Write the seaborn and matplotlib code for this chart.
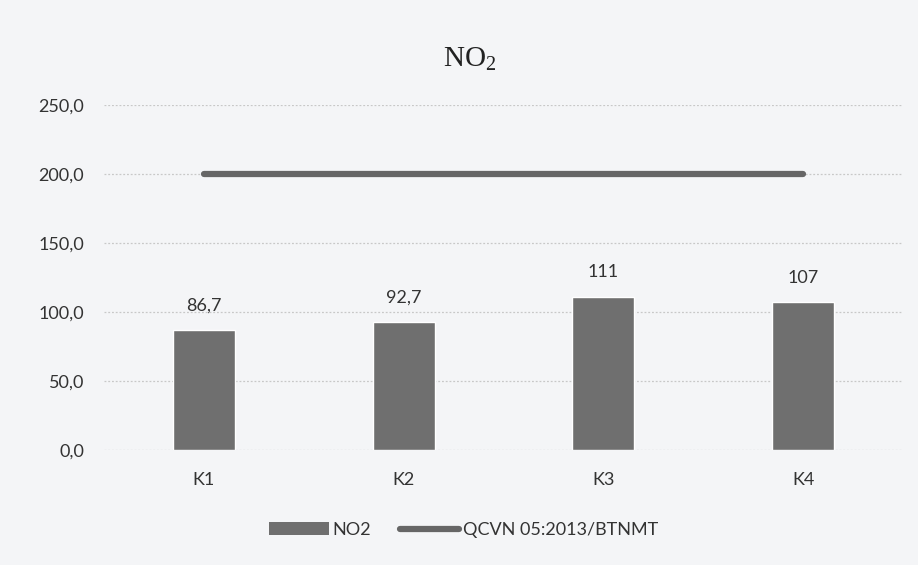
import matplotlib
matplotlib.use("Agg")
import matplotlib.pyplot as plt
from matplotlib.patches import Patch
from matplotlib.lines import Line2D
import seaborn as sns

# Monitoring points and measured NO2 concentrations
sites = ["K1", "K2", "K3", "K4"]
no2_values = [86.7, 92.7, 111, 107]
value_labels = ["86,7", "92,7", "111", "107"]
# National standard limit (QCVN 05:2013/BTNMT)
qcvn_limit = [200, 200, 200, 200]
y_ticks = [0, 50, 100, 150, 200, 250]
y_tick_labels = ["0,0", "50,0", "100,0", "150,0", "200,0", "250,0"]

sns.set_theme(style="white")
plt.rcParams["font.family"] = ["Lato", "DejaVu Sans"]
plt.rcParams["mathtext.fontset"] = "custom"
plt.rcParams["mathtext.rm"] = "Liberation Serif"
plt.rcParams["mathtext.it"] = "Liberation Serif:italic"

bg = "#f4f5f7"
bar_color = "#6f6f6f"
line_color = "#666666"
text_color = "#333333"
fs = 13

fig = plt.figure(figsize=(9.18, 5.65), dpi=100, facecolor=bg)
ax = fig.add_axes([0.113, 0.2035, 0.871, 0.611])
ax.set_facecolor(bg)

sns.barplot(x=sites, y=no2_values, color=bar_color, width=0.31,
            saturation=1, ax=ax, zorder=3)
sns.pointplot(x=sites, y=qcvn_limit, color=line_color, markers="",
              linewidth=4.5, ax=ax, zorder=4)

for i, (v, lab) in enumerate(zip(no2_values, value_labels)):
    ax.text(i, v + 12, lab, ha="center", va="bottom", fontsize=fs,
            color=text_color)

ax.set_ylim(0, 250)
ax.set_xlim(-0.5, 3.5)
ax.set_yticks(y_ticks)
ax.set_yticklabels(y_tick_labels, fontsize=fs, color=text_color)
ax.tick_params(axis="x", labelsize=fs, labelcolor=text_color, pad=16,
               length=0)
ax.tick_params(axis="y", pad=14, length=0)
ax.yaxis.grid(True, linestyle=(0, (1.5, 1.5)), color="#c8c8c8", linewidth=0.9)
ax.set_axisbelow(True)
for s in ax.spines.values():
    s.set_visible(False)
ax.set_xlabel("")
ax.set_ylabel("")

fig.text(0.512, 0.895, r"$\mathrm{NO}_2$", ha="center", va="center",
         fontsize=21, color="#222222")

handles = [Patch(facecolor=bar_color, edgecolor="none"),
           Line2D([0], [0], color=line_color, linewidth=4.5)]
fig.legend(handles, ["NO2", "QCVN 05:2013/BTNMT"], loc="center",
           bbox_to_anchor=(0.505, 0.062), ncol=2, frameon=False,
           fontsize=fs, handlelength=3.3, handletextpad=0.2,
           columnspacing=1.6, labelcolor=text_color)

fig.savefig("out.png", dpi=100, facecolor=bg)
